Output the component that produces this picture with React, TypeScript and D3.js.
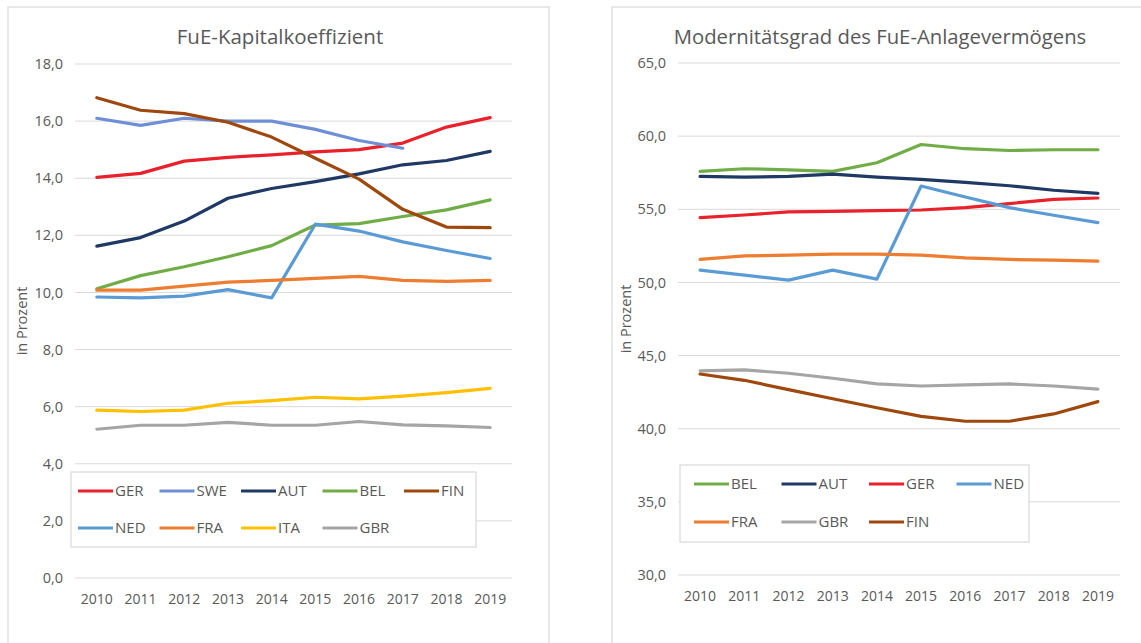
import React from "react";
import * as d3 from "d3";

const years = ["2010", "2011", "2012", "2013", "2014", "2015", "2016", "2017", "2018", "2019"];

// Left chart: FuE-Kapitalkoeffizient
const leftTitle = "FuE-Kapitalkoeffizient";
const leftTicks = [0, 2, 4, 6, 8, 10, 12, 14, 16, 18];
const kGER = [14.03, 14.17, 14.6, 14.73, 14.82, 14.92, 15.0, 15.23, 15.79, 16.12];
const kSWE = [16.1, 15.85, 16.1, 16.0, 16.0, 15.71, 15.32, 15.05, null, null];
const kAUT = [11.62, 11.92, 12.5, 13.3, 13.64, 13.88, 14.15, 14.47, 14.62, 14.94];
const kBEL = [10.13, 10.59, 10.9, 11.25, 11.64, 12.36, 12.41, 12.66, 12.89, 13.24];
const kFIN = [16.82, 16.38, 16.26, 15.96, 15.44, 14.7, 13.97, 12.91, 12.29, 12.27];
const kNED = [9.84, 9.81, 9.87, 10.1, 9.81, 12.39, 12.15, 11.77, 11.47, 11.19];
const kFRA = [10.08, 10.08, 10.22, 10.36, 10.42, 10.49, 10.56, 10.42, 10.39, 10.42];
const kITA = [5.88, 5.83, 5.88, 6.12, 6.21, 6.33, 6.27, 6.37, 6.49, 6.64];
const kGBR = [5.21, 5.35, 5.35, 5.45, 5.35, 5.35, 5.48, 5.36, 5.33, 5.27];

// Right chart: Modernitätsgrad des FuE-Anlagevermögens
const rightTitle = "Modernitätsgrad des FuE-Anlagevermögens";
const rightTicks = [30, 35, 40, 45, 50, 55, 60, 65];
const mBEL = [57.59, 57.77, 57.7, 57.59, 58.18, 59.43, 59.14, 59.02, 59.07, 59.07];
const mAUT = [57.25, 57.2, 57.25, 57.41, 57.2, 57.05, 56.84, 56.61, 56.3, 56.09];
const mGER = [54.43, 54.61, 54.82, 54.86, 54.91, 54.95, 55.11, 55.39, 55.68, 55.77];
const mNED = [50.84, 50.5, 50.16, 50.84, 50.23, 56.59, 55.84, 55.11, 54.59, 54.09];
const mFRA = [51.57, 51.82, 51.86, 51.93, 51.93, 51.86, 51.68, 51.57, 51.52, 51.45];
const mGBR = [43.96, 44.02, 43.79, 43.45, 43.06, 42.92, 43.0, 43.06, 42.92, 42.7];
const mFIN = [43.74, 43.31, 42.67, 42.05, 41.43, 40.84, 40.51, 40.51, 41.01, 41.85];

const COLORS: Record<string, string> = {
  GER: "#e8212b",
  SWE: "#6e8fd6",
  AUT: "#1f3864",
  BEL: "#70ad47",
  FIN: "#9e480e",
  NED: "#5b9bd5",
  FRA: "#ed7d31",
  ITA: "#ffc000",
  GBR: "#a5a5a5",
};

const leftSeries = [
  { name: "GER", values: kGER },
  { name: "SWE", values: kSWE },
  { name: "AUT", values: kAUT },
  { name: "BEL", values: kBEL },
  { name: "FIN", values: kFIN },
  { name: "NED", values: kNED },
  { name: "FRA", values: kFRA },
  { name: "ITA", values: kITA },
  { name: "GBR", values: kGBR },
];

const rightSeries = [
  { name: "BEL", values: mBEL },
  { name: "AUT", values: mAUT },
  { name: "GER", values: mGER },
  { name: "NED", values: mNED },
  { name: "FRA", values: mFRA },
  { name: "GBR", values: mGBR },
  { name: "FIN", values: mFIN },
];

const FONT = "'Open Sans', 'Noto Sans', sans-serif";
const TXT = "#595959";
const GRID = "#d9d9d9";

type Series = { name: string; values: (number | null)[] };

function Panel(props: {
  frame: { x: number; y: number; w: number; h: number };
  title: string;
  titleX: number;
  titleSize: number;
  plot: { x0: number; x1: number; y0: number; y1: number };
  domain: [number, number];
  ticks: number[];
  series: Series[];
  legend: { x: number; y: number; w: number; h: number; itemX: number; step: number; perRow: number; row1: number; row2: number };
  axisTitleX: number;
}) {
  const { frame, title, titleX, titleSize, plot, domain, ticks, series, legend, axisTitleX } = props;
  const x = d3.scalePoint<string>().domain(years).range([plot.x0, plot.x1]).padding(0.5);
  const y = d3.scaleLinear().domain(domain).range([plot.y1, plot.y0]);
  const line = d3
    .line<number | null>()
    .defined((d) => d !== null)
    .x((_, i) => x(years[i]) as number)
    .y((d) => y(d as number));
  const fmt = (v: number) => d3.format(".1f")(v).replace(".", ",");
  return (
    <g>
      <rect x={frame.x} y={frame.y} width={frame.w} height={frame.h} fill="#fff" stroke={GRID} strokeWidth={1.2} />
      <text x={titleX} y={44} textAnchor="middle" fontSize={titleSize} fill={TXT} fontFamily={FONT}>
        {title}
      </text>
      {ticks.map((t) => (
        <g key={t}>
          <line x1={plot.x0} x2={plot.x1} y1={y(t)} y2={y(t)} stroke={GRID} strokeWidth={1} />
          <text x={plot.x0 - 12} y={y(t)} dy="0.35em" textAnchor="end" fontSize={14.5} fill={TXT} fontFamily={FONT}>
            {fmt(t)}
          </text>
        </g>
      ))}
      {years.map((yr) => (
        <text key={yr} x={x(yr)} y={plot.y1 + 21} dy="0.35em" textAnchor="middle" fontSize={14} fill={TXT} fontFamily={FONT}>
          {yr}
        </text>
      ))}
      <text
        transform={`translate(${axisTitleX},${(plot.y0 + plot.y1) / 2}) rotate(-90)`}
        textAnchor="middle"
        dy="0.35em"
        fontSize={14.5}
        fill={TXT}
        fontFamily={FONT}
      >
        in Prozent
      </text>
      <rect x={legend.x} y={legend.y} width={legend.w} height={legend.h} fill="#fff" stroke={GRID} strokeWidth={1.2} />
      {series.map((s) => (
        <path key={s.name} d={line(s.values) || ""} fill="none" stroke={COLORS[s.name]} strokeWidth={3.2} strokeLinejoin="round" strokeLinecap="round" />
      ))}
      {series.map((s, i) => {
        const row = Math.floor(i / legend.perRow);
        const col = i % legend.perRow;
        const lx = legend.itemX + col * legend.step;
        const ly = row === 0 ? legend.row1 : legend.row2;
        return (
          <g key={"lg" + s.name}>
            <line x1={lx} x2={lx + 35} y1={ly} y2={ly} stroke={COLORS[s.name]} strokeWidth={3.2} />
            <text x={lx + 37} y={ly} dy="0.36em" fontSize={15} fill={TXT} fontFamily={FONT}>
              {s.name}
            </text>
          </g>
        );
      })}
    </g>
  );
}

export default function App() {
  return (
    <svg width={1141} height={643} style={{ position: "absolute", left: 0, top: 0, background: "#fff" }}>
      <rect x={0} y={0} width={1141} height={643} fill="#fff" />
      <Panel
        frame={{ x: 8, y: 7, w: 541, h: 660 }}
        title={leftTitle}
        titleX={280}
        titleSize={20.5}
        plot={{ x0: 75, x1: 512, y0: 64, y1: 578 }}
        domain={[0, 18]}
        ticks={leftTicks}
        series={leftSeries}
        legend={{ x: 71, y: 472, w: 405, h: 75, itemX: 78, step: 81.5, perRow: 5, row1: 491, row2: 528 }}
        axisTitleX={22}
      />
      <Panel
        frame={{ x: 612, y: 7, w: 560, h: 660 }}
        title={rightTitle}
        titleX={880}
        titleSize={20.3}
        plot={{ x0: 678, x1: 1120, y0: 63, y1: 575 }}
        domain={[30, 65]}
        ticks={rightTicks}
        series={rightSeries}
        legend={{ x: 680, y: 465, w: 349, h: 77, itemX: 694, step: 87.5, perRow: 4, row1: 484, row2: 522 }}
        axisTitleX={626}
      />
    </svg>
  );
}
